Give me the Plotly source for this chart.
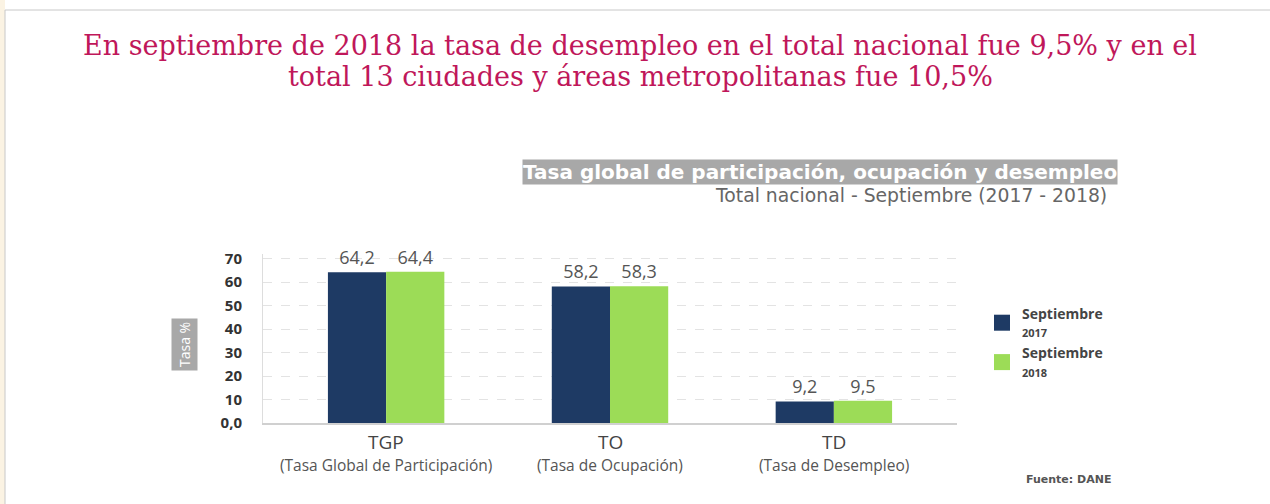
import plotly.graph_objects as go

categories = ["TGP", "TO", "TD"]
cat_desc = ["(Tasa Global de Participación)", "(Tasa de Ocupación)", "(Tasa de Desempleo)"]
sep_2017 = [64.2, 58.2, 9.2]
sep_2018 = [64.4, 58.3, 9.5]
series_names = ["<b>Septiembre</b><br><b><span style='font-size:11px'>2017</span></b>",
                "<b>Septiembre</b><br><b><span style='font-size:11px'>2018</span></b>"]
ytick_vals = [0, 10, 20, 30, 40, 50, 60, 70]
ytick_text = ["0,0", "10", "20", "30", "40", "50", "60", "70"]

C_DARK = "#1E3A64"
C_GREEN = "#9CDC57"
FONT = "Open Sans"

W, H = 1270, 504
L, R, T, B = 263, 313, 254, 81
pw, ph = W - L - R, H - T - B


def px(x):
    return (x - L) / pw


def py(y):
    return (H - B - y) / ph


fig = go.Figure()
fig.add_trace(go.Bar(x=categories, y=sep_2017, name=series_names[0], marker_color=C_DARK,
                     marker_line_width=0, texttemplate="%{y:.1f}", textposition="outside",
                     textfont=dict(family=FONT, size=18, color="#555"), cliponaxis=False,
                     showlegend=False))
fig.add_trace(go.Bar(x=categories, y=sep_2018, name=series_names[1], marker_color=C_GREEN,
                     marker_line_width=0, texttemplate="%{y:.1f}", textposition="outside",
                     textfont=dict(family=FONT, size=18, color="#555"), cliponaxis=False,
                     showlegend=False))
# legend entries (larger square swatches)
for name, col in zip(series_names, [C_DARK, C_GREEN]):
    fig.add_trace(go.Scatter(x=[None], y=[None], mode="markers", name=name,
                             marker=dict(symbol="square", size=16, color=col)))

annotations = []
TITLE_FONT = dict(family="DejaVu Serif", size=27, color="#C0175A")
annotations.append(dict(text="En septiembre de 2018 la tasa de desempleo en el total nacional fue 9,5% y en el",
                        xref="paper", yref="paper", x=px(640), y=py(45), xanchor="center", yanchor="middle",
                        showarrow=False, font=TITLE_FONT))
annotations.append(dict(text="total 13 ciudades y áreas metropolitanas fue 10,5%",
                        xref="paper", yref="paper", x=px(640), y=py(76), xanchor="center", yanchor="middle",
                        showarrow=False, font=TITLE_FONT))
# Chart heading
annotations.append(dict(text="<b>Tasa global de participación, ocupación y desempleo</b>",
                        xref="paper", yref="paper", x=px(1118), y=py(172), xanchor="right", yanchor="middle",
                        showarrow=False, bgcolor="#A8A8A8", borderpad=0,
                        font=dict(family="DejaVu Sans", size=20, color="white")))
annotations.append(dict(text="Total nacional - Septiembre (2017 - 2018)",
                        xref="paper", yref="paper", x=px(1109), y=py(195), xanchor="right", yanchor="middle",
                        showarrow=False, font=dict(family="DejaVu Sans", size=18.8, color="#666")))
# Y title box
annotations.append(dict(text="Tasa %", textangle=-90,
                        xref="paper", yref="paper", x=px(184), y=py(345), xanchor="center", yanchor="middle",
                        showarrow=False, bgcolor="#A8A8A8", borderpad=3,
                        font=dict(family=FONT, size=14, color="white")))
# Category labels
for c, d in zip(categories, cat_desc):
    annotations.append(dict(text=c, xref="x", yref="paper", x=c, y=py(442), xanchor="center",
                            yanchor="middle", showarrow=False,
                            font=dict(family=FONT, size=19, color="#444")))
    annotations.append(dict(text=d, xref="x", yref="paper", x=c, y=py(465), xanchor="center",
                            yanchor="middle", showarrow=False,
                            font=dict(family=FONT, size=15.5, color="#555")))
# Source
annotations.append(dict(text="<b>Fuente: DANE</b>", xref="paper", yref="paper", x=px(1113), y=py(479),
                        xanchor="right", yanchor="middle", showarrow=False,
                        font=dict(family="DejaVu Sans", size=11, color="#555")))

shapes = [
    dict(type="rect", xref="paper", yref="paper", x0=px(0), x1=px(5), y0=py(504), y1=py(0),
         fillcolor="#FBF3E3", line_width=0, layer="below"),
    dict(type="line", xref="paper", yref="paper", x0=px(5), x1=px(1270), y0=py(10), y1=py(10),
         line=dict(color="#C8C8C8", width=1)),
    dict(type="line", xref="paper", yref="paper", x0=px(5), x1=px(5), y0=py(10), y1=py(504),
         line=dict(color="#C8C8C8", width=1)),
]

fig.update_layout(
    width=W, height=H,
    margin=dict(l=L, r=R, t=T, b=B, autoexpand=False),
    paper_bgcolor="white", plot_bgcolor="white",
    barmode="group", bargap=0.48, bargroupgap=0,
    separators=",.",
    showlegend=True,
    legend=dict(x=px(982), y=py(298), xanchor="left", yanchor="top", bgcolor="rgba(0,0,0,0)",
                font=dict(family=FONT, size=14, color="#444"), tracegroupgap=0,
                itemsizing="trace", itemwidth=30),
    annotations=annotations,
    shapes=shapes,
    xaxis=dict(range=[-0.55, 2.55], showticklabels=False, showgrid=False, zeroline=False,
               showline=True, linecolor="#D0D0D0", linewidth=1.5, ticks=""),
    yaxis=dict(range=[0, 72], tickvals=ytick_vals, ticktext=ytick_text,
               tickfont=dict(family=FONT, size=15, color="#333", weight="bold"),
               showgrid=True, gridcolor="#E3E3E3", griddash="dash", gridwidth=1,
               zeroline=False, showline=True, linecolor="#DDDDDD", linewidth=1,
               ticks="", ticklabelstandoff=17),
)

fig.write_html("out.html", config={"displayModeBar": False},
               post_script="document.body.style.margin='0';")
